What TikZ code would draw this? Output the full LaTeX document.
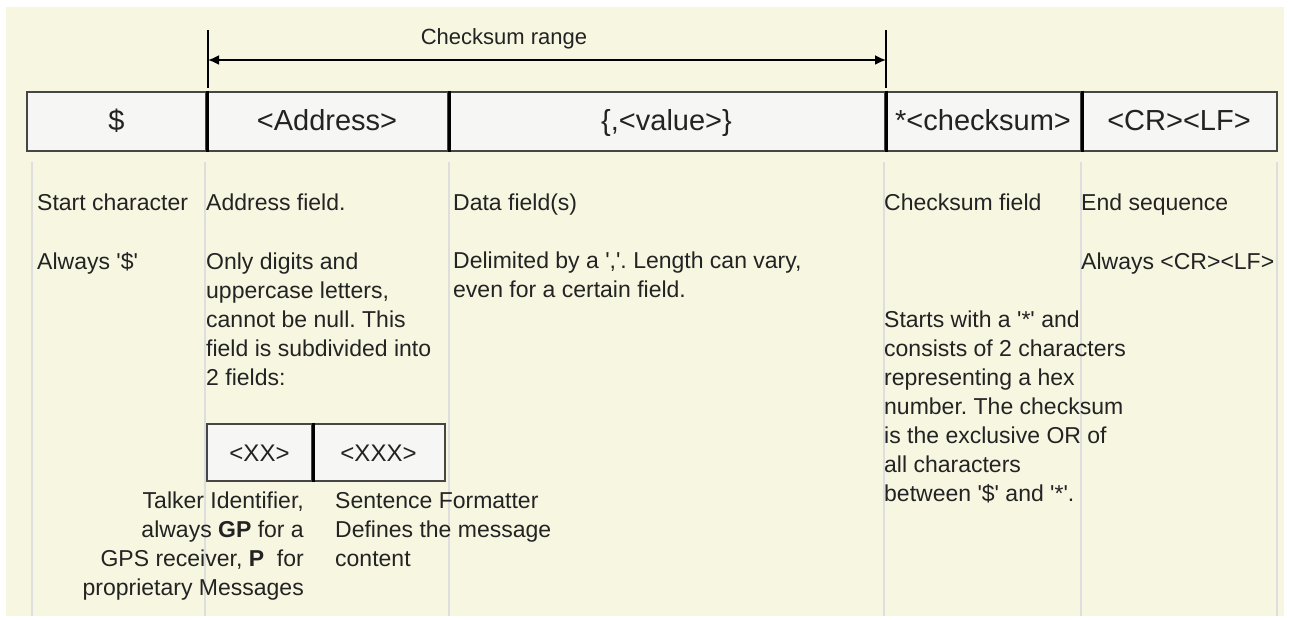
\documentclass[tikz,border=0pt]{standalone}
\usepackage{fontspec}
\newfontfamily\uifont{Liberation Sans}
\usetikzlibrary{arrows.meta}
\frenchspacing
\definecolor{paper}{RGB}{247,246,225}
\definecolor{cellfill}{RGB}{246,247,244}
\definecolor{boxline}{RGB}{70,70,70}
\definecolor{guidegrey}{RGB}{222,222,222}
\definecolor{ink}{RGB}{35,35,35}
\tikzset{
  cell/.style={draw=boxline, line width=2.5pt, fill=cellfill, inner sep=0pt,
    minimum height=59pt, text=ink, font=\uifont\fontsize{29}{34}\selectfont,
    text height=22.9pt, text depth=5.8pt},
  subcell/.style={cell, minimum height=57pt, font=\uifont\fontsize{24}{29}\selectfont,
    text height=21pt, text depth=3pt},
  divider/.style={black, line width=3pt},
  colguide/.style={guidegrey, line width=2pt},
  tickline/.style={black, line width=1.8pt},
  spanarrow/.style={black, line width=1.8pt, {Latex[length=11pt,width=10pt]}-{Latex[length=11pt,width=10pt]}},
  % multi-line notes are placed by the baseline of their last line
  note/.style={inner sep=0pt, anchor=base west, align=left, text=ink,
    font=\uifont\fontsize{23}{29}\selectfont\frenchspacing},
  rnote/.style={note, anchor=base east, align=right}
}
\begin{document}
\begin{tikzpicture}[x=1pt, y=-1pt]
\useasboundingbox (0,0) rectangle (1290,620);
\fill[white] (0,0) rectangle (1290,620);
\fill[paper] (6,7) rectangle (1284,616);

% column guides under the frame
\foreach \gx in {32,205,449,884,1081,1277}
  \draw[colguide] (\gx,162) -- (\gx,616);

% checksum range marker
\coordinate (tlTop) at (208,30);
\coordinate (tlBot) at (208,88);
\coordinate (trTop) at (886,30);
\coordinate (trBot) at (886,88);
\coordinate (rangeL) at (208,60);
\coordinate (rangeR) at (886,60);
\draw[tickline] (tlTop) -- (tlBot);
\draw[tickline] (trTop) -- (trBot);
\draw[spanarrow] (rangeL) -- (rangeR);
\node[inner sep=0pt, anchor=base, text=ink, font=\uifont\fontsize{22}{27}\selectfont]
  (rangelabel) at (504,45) {Checksum range};

% sentence frame
\node[cell, minimum width=179pt] (dollar) at (116.5,121.5) {\$};
\node[cell, minimum width=242pt] (address) at (327,121.5) {<Address>};
\node[cell, minimum width=437pt] (value) at (666.5,121.5) {\{,<value>\}};
\node[cell, minimum width=196pt] (checksum) at (983,121.5) {*<checksum>};
\node[cell, minimum width=196pt] (crlf) at (1179,121.5) {<CR><LF>};
\draw[divider] (dollar.north east) -- (dollar.south east);
\draw[divider] (address.north east) -- (address.south east);
\draw[divider] (value.north east) -- (value.south east);
\draw[divider] (checksum.north east) -- (checksum.south east);

% column descriptions
\node[note] (startT) at (37,211) {Start character};
\node[note] (startD) at (37,270) {Always '\$'};
\node[note] (addrT) at (206,211) {Address field.};
\node[note] (addrD) at (206,385) {Only digits and\\uppercase letters,\\cannot be null. This\\field is subdivided into\\2 fields:};
\node[note] (dataT) at (453,211) {Data field(s)};
\node[note] (dataD) at (453,298) {Delimited by a ','. Length can vary,\\even for a certain field.};
\node[note] (sumT) at (884,211) {Checksum field};
\node[note] (sumD) at (884,501) {Starts with a '*' and\\consists of 2 characters\\representing a hex\\number. The checksum\\is the exclusive OR of\\all characters\\between '\$' and '*'.};
\node[note] (endT) at (1081,211) {End sequence};
\node[note] (endD) at (1081,270) {Always <CR><LF>};

% address sub-fields
\node[subcell, minimum width=105pt] (talker) at (259.5,452.5) {<XX>};
\node[subcell, minimum width=133pt] (formatter) at (378.5,452.5) {<XXX>};
\draw[divider] (talker.north east) -- (talker.south east);
\node[rnote] (talkerD) at (304,595) {Talker Identifier,\\always \textbf{GP} for a\\GPS receiver, \textbf{P}\ \ for\\proprietary Messages};
\node[note] (formatterD) at (335,566) {Sentence Formatter\\Defines the message\\content};
\end{tikzpicture}
\end{document}
